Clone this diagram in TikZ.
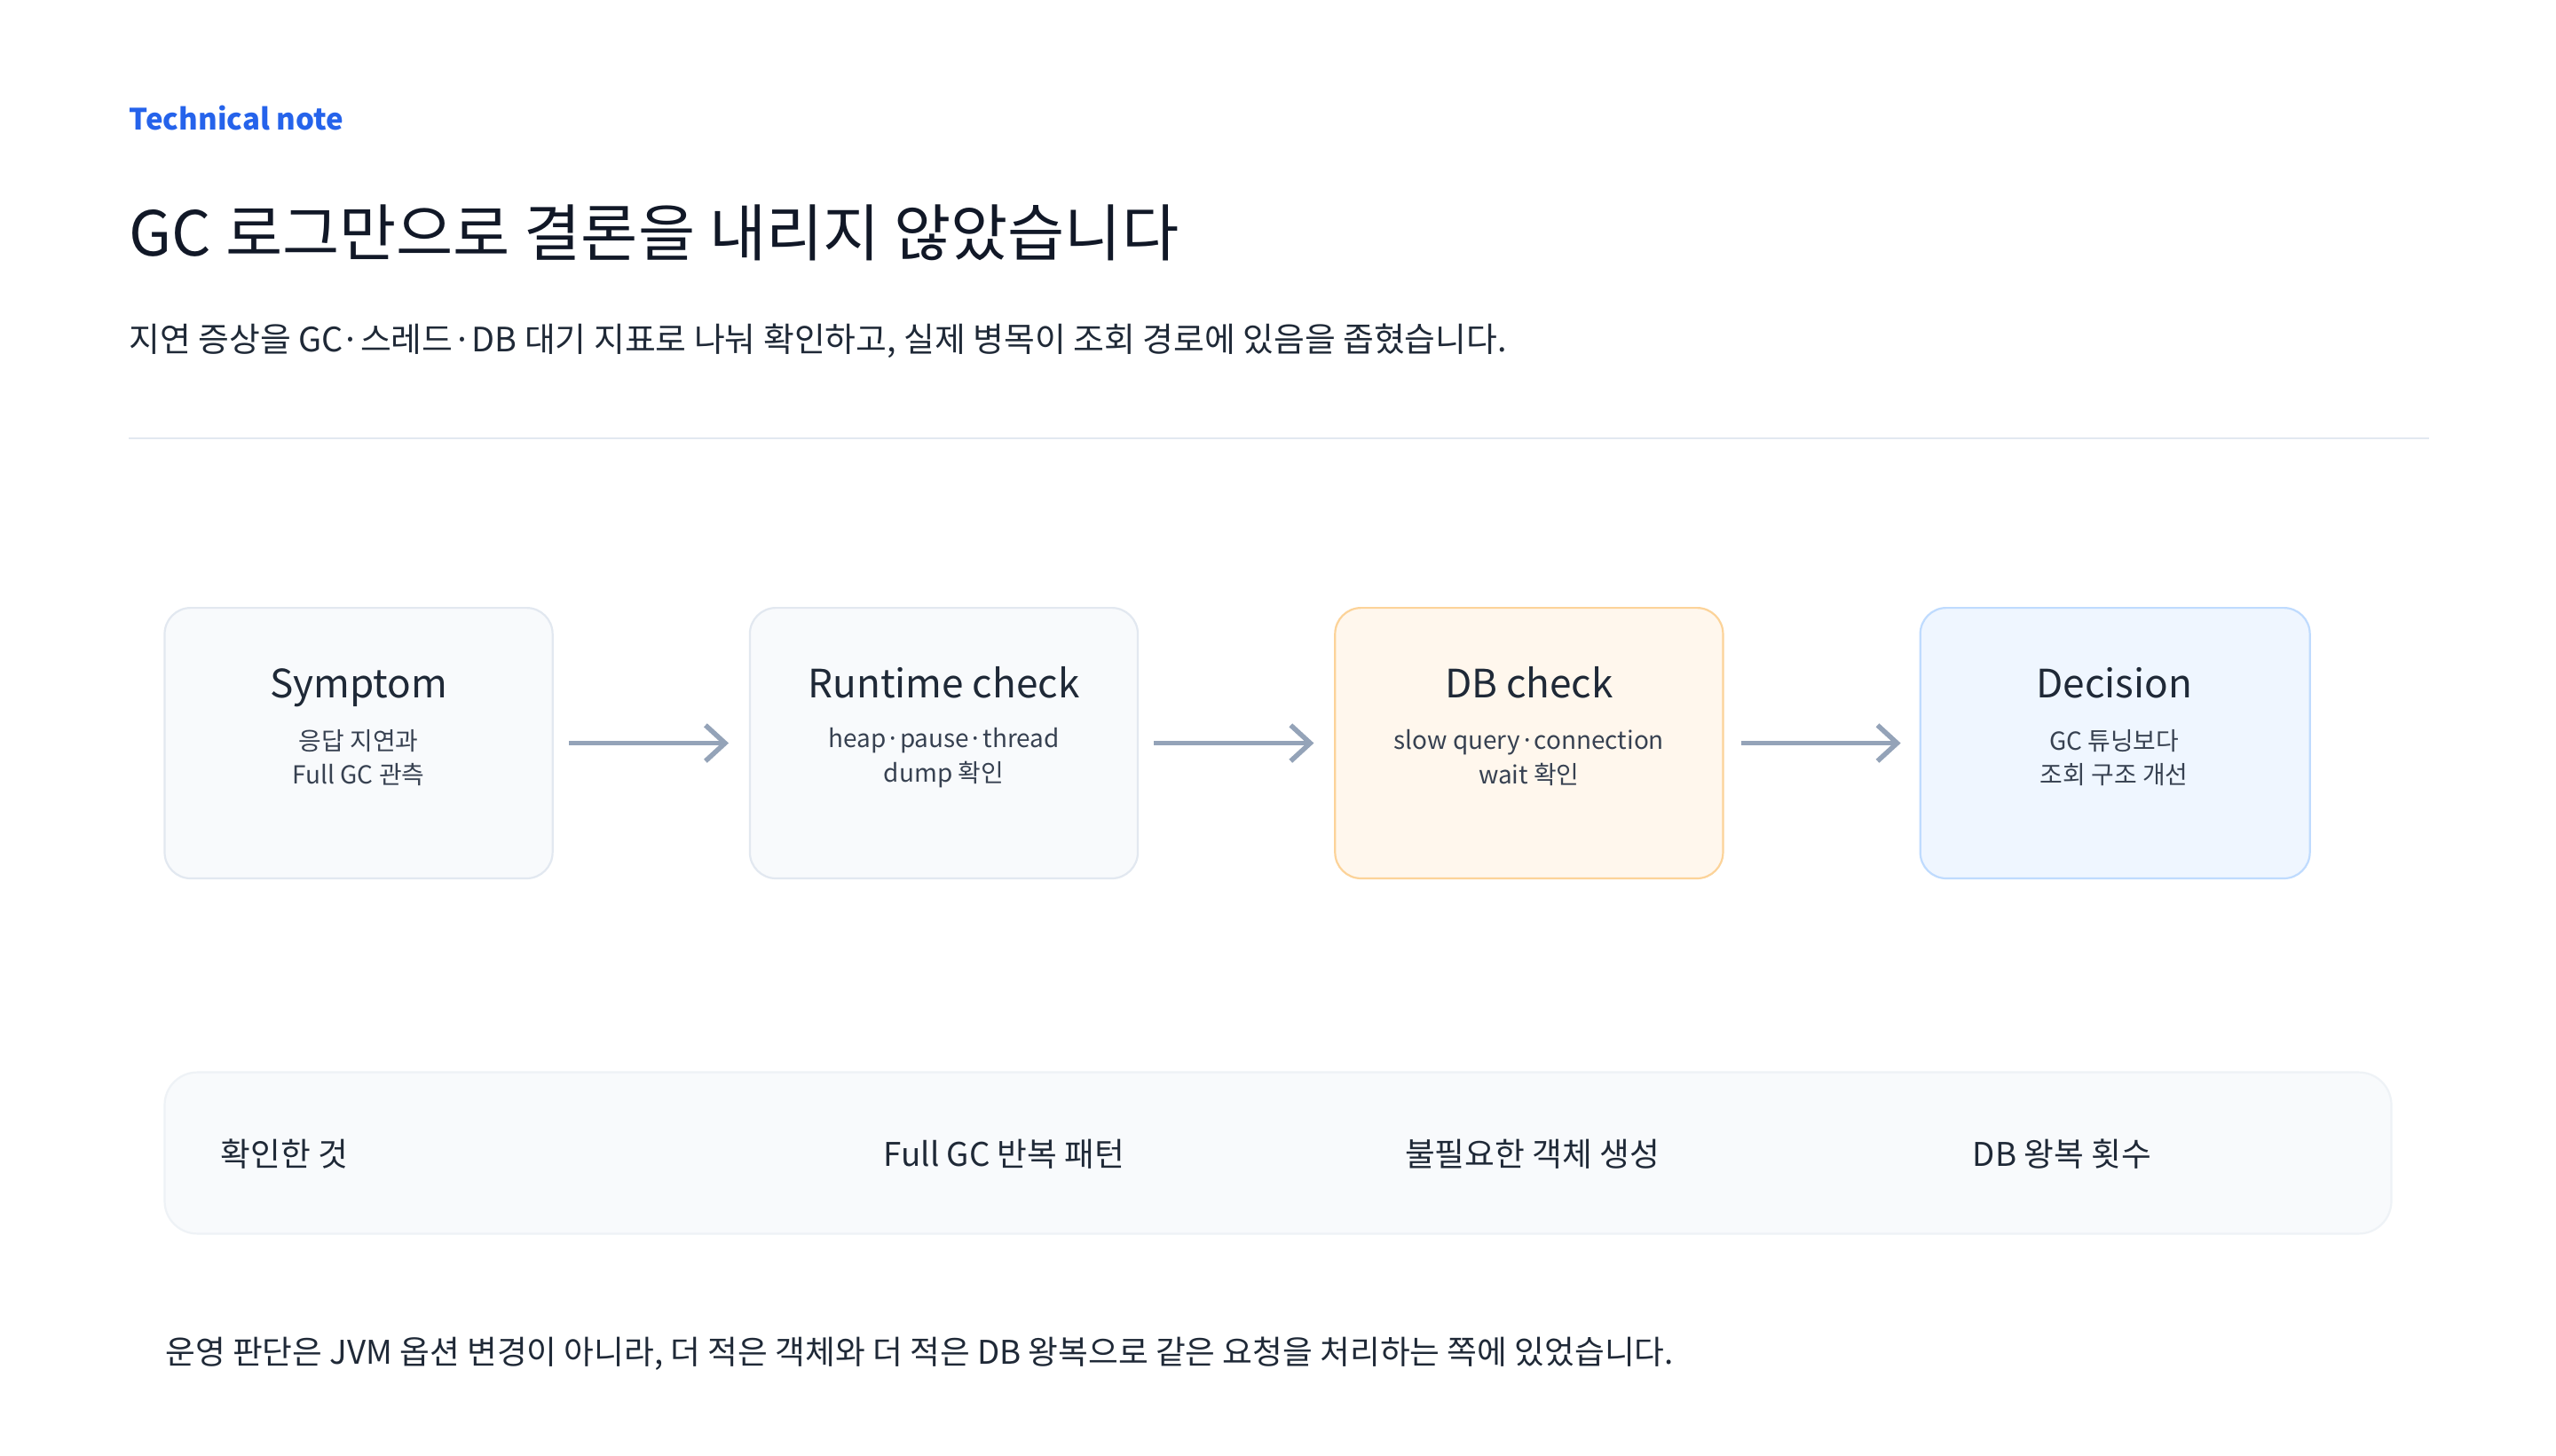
\documentclass[tikz,border=0pt]{standalone}
\usepackage{fontspec}
\setmainfont{Noto Sans CJK KR}
\usetikzlibrary{arrows.meta}
\definecolor{ink}{HTML}{111827}
\definecolor{body}{HTML}{1F2937}
\definecolor{sub}{HTML}{374151}
\definecolor{blue}{HTML}{2563EB}
\definecolor{rule}{HTML}{E2E8F0}
\definecolor{arr}{HTML}{94A3B8}
\definecolor{grayfill}{HTML}{F8FAFC}
\definecolor{orline}{HTML}{FCD399}
\definecolor{orfill}{HTML}{FFF7ED}
\definecolor{blline}{HTML}{BFDBFE}
\definecolor{blfill}{HTML}{EFF6FF}
\definecolor{panline}{HTML}{EEF2F6}
\tikzset{x=0.5pt,y=-0.5pt,
 box/.style={draw=#1,line width=0.6pt,rounded corners=8pt},
 ttl/.style={anchor=base,inner sep=0pt,font=\fontsize{12}{14}\selectfont,text=body},
 sb/.style={font=\fontsize{7.6}{10.5}\selectfont,text=sub,align=center},
 conn/.style={draw=arr,line width=1.5pt,-{Straight Barb[length=6pt,width=11pt,line width=1.5pt]}},
 row/.style={font=\fontsize{10}{12}\selectfont,text=body}}
\begin{document}
\begin{tikzpicture}
\useasboundingbox[fill=white] (0,0) rectangle (1568,893);
\node[anchor=base west,inner sep=0pt,font=\bfseries\fontsize{9}{11}\selectfont,text=blue] (tn) at (79,80) {Technical note};
\node[anchor=base west,inner sep=0pt,font=\fontsize{19}{22}\selectfont,text=ink] (t) at (79,157) {GC 로그만으로 결론을 내리지 않았습니다};
\node[anchor=base west,inner sep=0pt,font=\fontsize{10.3}{12}\selectfont,text=body] (s) at (79,216) {지연 증상을 GC·스레드·DB 대기 지표로 나눠 확인하고, 실제 병목이 조회 경로에 있음을 좁혔습니다.};
\draw[rule,line width=0.6pt] (79,269) -- (1490,269);
\filldraw[box=rule,fill=grayfill] (101,373) rectangle (339,539);
\filldraw[box=rule,fill=grayfill] (460,373) rectangle (698,539);
\filldraw[box=orline,fill=orfill] (819,373) rectangle (1057,539);
\filldraw[box=blline,fill=blfill] (1178,373) rectangle (1417,539);
\node[ttl] (h1) at (220,428) {Symptom};
\node[sb] (d1) at (220,465) {응답 지연과\\Full GC 관측};
\node[ttl] (h2) at (579,428) {Runtime check};
\node[sb] (d2) at (579,465) {heap·pause·thread\\dump 확인};
\node[ttl] (h3) at (938,428) {DB check};
\node[sb] (d3) at (938,465) {slow query·connection\\wait 확인};
\node[ttl] (h4) at (1297,428) {Decision};
\node[sb] (d4) at (1297,465) {GC 튜닝보다\\조회 구조 개선};
\coordinate (a1s) at (349,456); \coordinate (a1e) at (447,456);
\coordinate (a2s) at (708,456); \coordinate (a2e) at (806,456);
\coordinate (a3s) at (1068,456); \coordinate (a3e) at (1166,456);
\draw[conn] (a1s) -- (a1e);
\draw[conn] (a2s) -- (a2e);
\draw[conn] (a3s) -- (a3e);
\filldraw[draw=panline,fill=grayfill,line width=0.6pt,rounded corners=10pt] (101,658) rectangle (1467,757);
\node[row,anchor=west,inner sep=0pt] (r0) at (135,708) {확인한 것};
\node[row] (r1) at (616,708) {Full GC 반복 패턴};
\node[row] (r2) at (940,708) {불필요한 객체 생성};
\node[row] (r3) at (1265,708) {DB 왕복 횟수};
\node[anchor=base west,inner sep=0pt,font=\fontsize{10}{12}\selectfont,text=body] (f) at (101,837) {운영 판단은 JVM 옵션 변경이 아니라, 더 적은 객체와 더 적은 DB 왕복으로 같은 요청을 처리하는 쪽에 있었습니다.};
\end{tikzpicture}
\end{document}
